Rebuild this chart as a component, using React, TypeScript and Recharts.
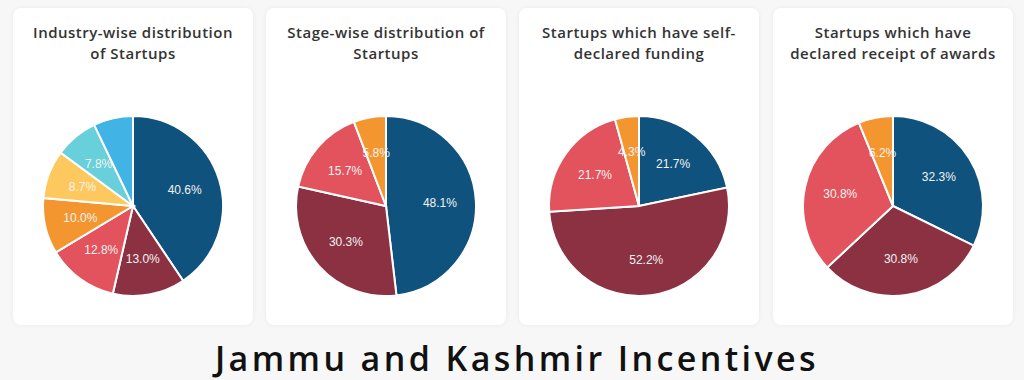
import React from "react";
import { PieChart, Pie, Cell } from "recharts";

const COLORS = ["#0f527d", "#8b3142", "#e2535d", "#f4962f", "#fdc95e", "#68d0da", "#41b3e4"];

const industryValues = [40.6, 13.0, 12.8, 10.0, 8.7, 7.8, 7.1];
const industryLabelShown = [true, true, true, true, true, true, false];
const stageValues = [48.1, 30.3, 15.7, 5.8];
const fundingValues = [21.7, 52.2, 21.7, 4.3];
const awardsValues = [32.3, 30.8, 30.8, 6.2];

const titles = [
  ["Industry-wise distribution", "of Startups"],
  ["Stage-wise distribution of", "Startups"],
  ["Startups which have self-", "declared funding"],
  ["Startups which have", "declared receipt of awards"],
];
const mainTitle = "Jammu and Kashmir Incentives";

const cardLefts = [13, 266, 519, 773];

const charts = [
  { values: industryValues, shown: industryLabelShown },
  { values: stageValues, shown: stageValues.map(() => true) },
  { values: fundingValues, shown: fundingValues.map(() => true) },
  { values: awardsValues, shown: awardsValues.map(() => true) },
];

const RAD = Math.PI / 180;

function makeLabel(shown: boolean[]) {
  return (props: any) => {
    const { cx, cy, midAngle, outerRadius, value, index } = props;
    if (!shown[index]) return null;
    const r = outerRadius * 0.6;
    const x = cx + r * Math.cos(-midAngle * RAD);
    const y = cy + r * Math.sin(-midAngle * RAD);
    return (
      <text
        x={x}
        y={y}
        fill="#f2f2f2"
        textAnchor="middle"
        dominantBaseline="central"
        fontFamily="'Liberation Sans', Arial, sans-serif"
        fontSize={12}
      >
        {value.toFixed(1) + "%"}
      </text>
    );
  };
}

export default function App() {
  return (
    <div
      style={{
        position: "absolute",
        left: 0,
        top: 0,
        width: 1024,
        height: 380,
        background: "#f7f7f7",
        overflow: "hidden",
      }}
    >
      {charts.map((c, i) => {
        const data = c.values.map((v, j) => ({ name: "s" + j, value: v }));
        return (
          <div
            key={i}
            style={{
              position: "absolute",
              left: cardLefts[i],
              top: 8,
              width: 240,
              height: 317,
              background: "#ffffff",
              borderRadius: 8,
              boxShadow: "0 0 5px rgba(0,0,0,0.06)",
            }}
          >
            <div
              style={{
                position: "absolute",
                left: 0,
                top: 14,
                width: 240,
                textAlign: "center",
                fontFamily: "'Open Sans', sans-serif",
                fontWeight: 600,
                fontSize: 15,
                lineHeight: "20.5px",
                letterSpacing: 0.5,
                color: "#333333",
              }}
            >
              {titles[i].map((t, k) => (
                <div key={k}>{t}</div>
              ))}
            </div>
            <div style={{ position: "absolute", left: 0, top: 0 }}>
              <PieChart width={240} height={317} margin={{ top: 0, right: 0, bottom: 0, left: 0 }}>
                <Pie
                  data={data}
                  dataKey="value"
                  cx={120}
                  cy={198}
                  outerRadius={90}
                  startAngle={90}
                  endAngle={-270}
                  stroke="#ffffff"
                  strokeWidth={2}
                  labelLine={false}
                  label={makeLabel(c.shown)}
                  isAnimationActive={false}
                >
                  {data.map((d, j) => (
                    <Cell key={j} fill={COLORS[j]} />
                  ))}
                </Pie>
              </PieChart>
            </div>
          </div>
        );
      })}
      <svg
        width={1024}
        height={60}
        style={{ position: "absolute", left: 0, top: 320 }}
      >
        <text
          x={517}
          y={51}
          textAnchor="middle"
          fontFamily="'Open Sans', sans-serif"
          fontWeight={600}
          fontSize={34}
          letterSpacing={3.4}
          fill="#111111"
        >
          {mainTitle}
        </text>
      </svg>
    </div>
  );
}
